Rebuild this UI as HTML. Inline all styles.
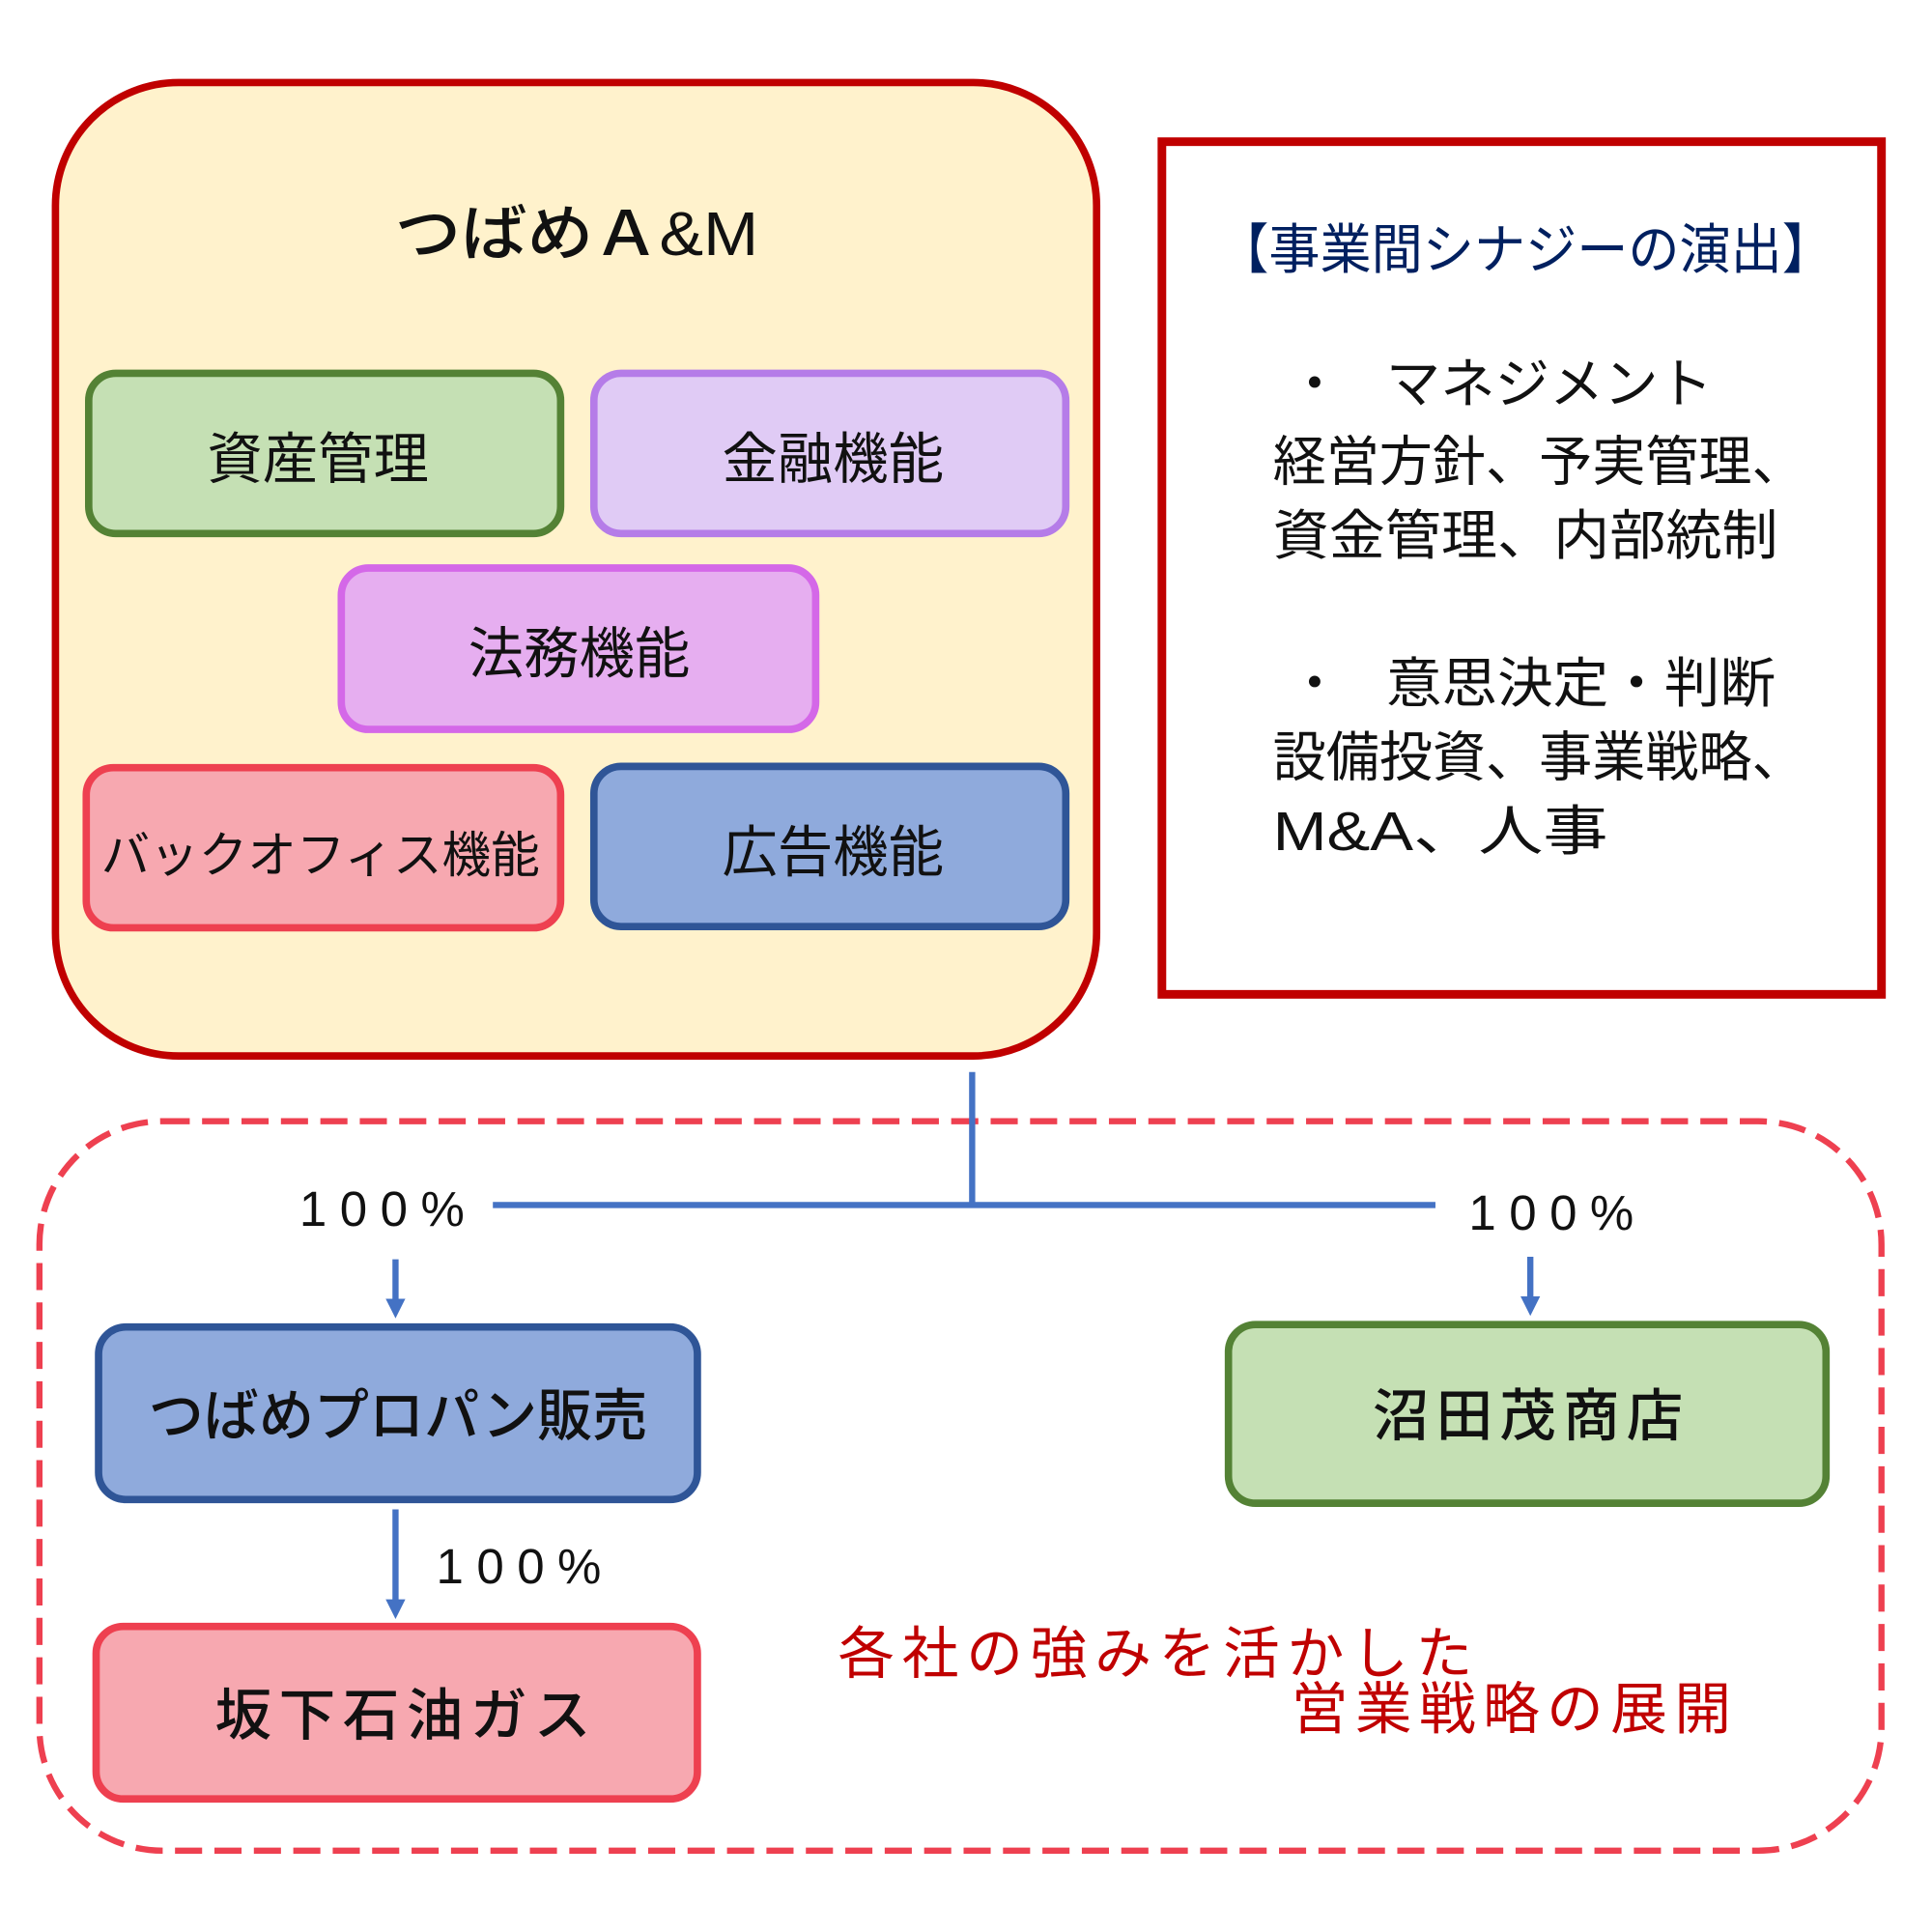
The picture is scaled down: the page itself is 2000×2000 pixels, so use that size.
<!DOCTYPE html>
<html><head><meta charset="utf-8"><style>
html,body{margin:0;padding:0;background:#fff}
svg{display:block}
text{font-family:"Liberation Sans","Noto Sans CJK JP",sans-serif}
</style></head><body>
<svg width="2000" height="2000" viewBox="0 0 1568 1568" xmlns="http://www.w3.org/2000/svg">
<defs><marker id="ah" markerWidth="16" markerHeight="16" refX="4" refY="8" orient="auto" markerUnits="userSpaceOnUse"><path d="M0,0 L16,8 L0,16 z" fill="#4472c4"/></marker></defs>
<rect x="45" y="67" width="845" height="790" rx="100" fill="#fff2cc" stroke="#c00000" stroke-width="6"/>
<text x="468" y="207" font-size="50" text-anchor="middle" font-weight="500" fill="#111" textLength="295" lengthAdjust="spacingAndGlyphs">つばめＡ&amp;M</text>
<rect x="72" y="303" width="383" height="130" rx="22" fill="#c5e0b4" stroke="#548235" stroke-width="6"/>
<text x="258" y="388" font-size="45" text-anchor="middle" fill="#111">資産管理</text>
<rect x="482" y="303" width="383" height="130" rx="22" fill="#e0cbf5" stroke="#b57ce8" stroke-width="6"/>
<text x="676" y="388" font-size="45" text-anchor="middle" fill="#111">金融機能</text>
<rect x="277" y="461" width="385" height="131" rx="22" fill="#e6aef0" stroke="#d468e8" stroke-width="6"/>
<text x="470" y="546" font-size="45" text-anchor="middle" fill="#111">法務機能</text>
<rect x="70" y="623" width="385" height="130" rx="22" fill="#f7a8b0" stroke="#ee4050" stroke-width="6"/>
<text x="260" y="708" font-size="40" text-anchor="middle" fill="#111" textLength="356" lengthAdjust="spacingAndGlyphs">バックオフィス機能</text>
<rect x="482" y="622" width="383" height="130" rx="22" fill="#8faadc" stroke="#2f5597" stroke-width="6"/>
<text x="676" y="707" font-size="45" text-anchor="middle" fill="#111">広告機能</text>
<rect x="943" y="115" width="584" height="692" fill="#fff" stroke="#c00000" stroke-width="7"/>
<g font-size="44" fill="#111">
<text x="988" y="218" fill="#002060" textLength="500" lengthAdjust="spacingAndGlyphs">【事業間シナジーの演出】</text>
<text x="1045" y="327">・</text>
<text x="1125" y="327" textLength="265" lengthAdjust="spacingAndGlyphs">マネジメント</text>
<text x="1033" y="390" textLength="432" lengthAdjust="spacingAndGlyphs">経営方針、予実管理、</text>
<text x="1033" y="450" textLength="410" lengthAdjust="spacingAndGlyphs">資金管理、内部統制</text>
<text x="1045" y="570">・</text>
<text x="1125" y="570" textLength="316" lengthAdjust="spacingAndGlyphs">意思決定・判断</text>
<text x="1033" y="630" textLength="432" lengthAdjust="spacingAndGlyphs">設備投資、事業戦略、</text>
<text x="1033" y="690" textLength="272" lengthAdjust="spacingAndGlyphs">M&amp;A、人事</text>
</g>
<rect x="32" y="910" width="1495" height="592" rx="100" fill="none" stroke="#ee4050" stroke-width="5" stroke-dasharray="22,10"/>
<g stroke="#4472c4" stroke-width="5" fill="none">
<line x1="789" y1="870" x2="789" y2="978"/>
<line x1="400" y1="978" x2="1165" y2="978"/>
<line x1="321" y1="1022" x2="321" y2="1058" marker-end="url(#ah)"/>
<line x1="1242" y1="1020" x2="1242" y2="1056" marker-end="url(#ah)"/>
<line x1="321" y1="1225" x2="321" y2="1302" marker-end="url(#ah)"/>
</g>
<g font-size="40" fill="#111" font-weight="500">
<text x="243" y="995" textLength="134" lengthAdjust="spacing">100%</text>
<text x="1192" y="998" textLength="134" lengthAdjust="spacing">100%</text>
<text x="354" y="1285" textLength="134" lengthAdjust="spacing">100%</text>
</g>
<rect x="80" y="1077" width="486" height="140" rx="22" fill="#8faadc" stroke="#2f5597" stroke-width="6"/>
<text x="323" y="1165" font-size="46" text-anchor="middle" font-weight="500" fill="#111" textLength="405" lengthAdjust="spacingAndGlyphs">つばめプロパン販売</text>
<rect x="997" y="1075" width="485" height="145" rx="22" fill="#c5e0b4" stroke="#548235" stroke-width="6"/>
<text x="1240" y="1165" font-size="46" text-anchor="middle" font-weight="500" fill="#111" textLength="252" lengthAdjust="spacing">沼田茂商店</text>
<rect x="78" y="1320" width="488" height="140" rx="22" fill="#f7a8b0" stroke="#ee4050" stroke-width="6"/>
<text x="327" y="1408" font-size="46" text-anchor="middle" font-weight="500" fill="#111" textLength="305" lengthAdjust="spacing">坂下石油ガス</text>
<text x="680" y="1358" font-size="46" fill="#c00000" textLength="515" lengthAdjust="spacing">各社の強みを活かした</text>
<text x="1048" y="1403" font-size="46" fill="#c00000" textLength="357" lengthAdjust="spacing">営業戦略の展開</text>
</svg>
</body></html>
